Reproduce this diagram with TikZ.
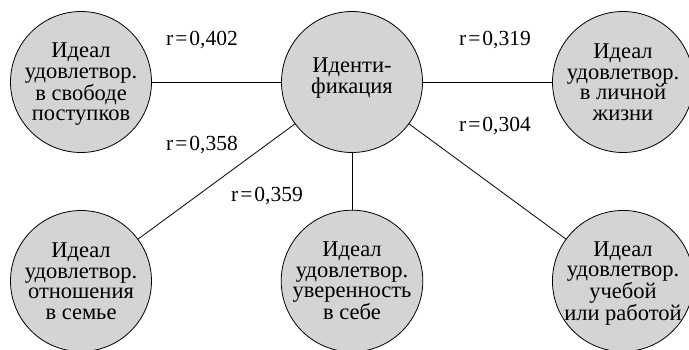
\documentclass[tikz,border=0pt]{standalone}
\usepackage{fontspec}
\setmainfont{Liberation Serif}
\begin{document}
\begin{tikzpicture}[x=1pt,y=-1pt,
    ideal/.style={circle,draw,line width=0.8pt,fill=black!17,minimum size=141pt,
      inner sep=0pt,align=center,text depth=0pt,font=\fontsize{22.5}{20.5}\selectfont},
    coef/.style={inner sep=0pt,font=\fontsize{21.5}{20.5}\selectfont}]
      \clip (0,0) rectangle (689,349);
      \draw
        (352,82) node[ideal,text depth=13pt] (ident){Иденти-\\фикация}
        (81,82) node[ideal] (free){Идеал\\удовлетвор.\\в свободе\\поступков}
        (623,82) node[ideal] (life){Идеал\\удовлетвор.\\в личной\\жизни}
        (81,281) node[ideal] (family){Идеал\\удовлетвор.\\отношения\\в семье}
        (352,281) node[ideal] (self){Идеал\\удовлетвор.\\уверенность\\в себе}
        (623,281) node[ideal] (work){Идеал\\удовлетвор.\\учебой\\или работой};
      \begin{scope}[-,line width=0.8pt]
        \draw (ident) to (free);
        \draw (ident) to (life);
        \draw (ident) to (family);
        \draw (ident) to (self);
        \draw (ident) to (work);
      \end{scope}
      \node[coef] (r1) at (202,40) {r\kern2pt=\kern2pt0,402};
      \node[coef] (r2) at (495,40) {r\kern2pt=\kern2pt0,319};
      \node[coef] (r3) at (202,145) {r\kern2pt=\kern2pt0,358};
      \node[coef] (r4) at (495,126) {r\kern2pt=\kern2pt0,304};
      \node[coef] (r5) at (267,196) {r\kern2pt=\kern2pt0,359};
    \end{tikzpicture}
\end{document}
